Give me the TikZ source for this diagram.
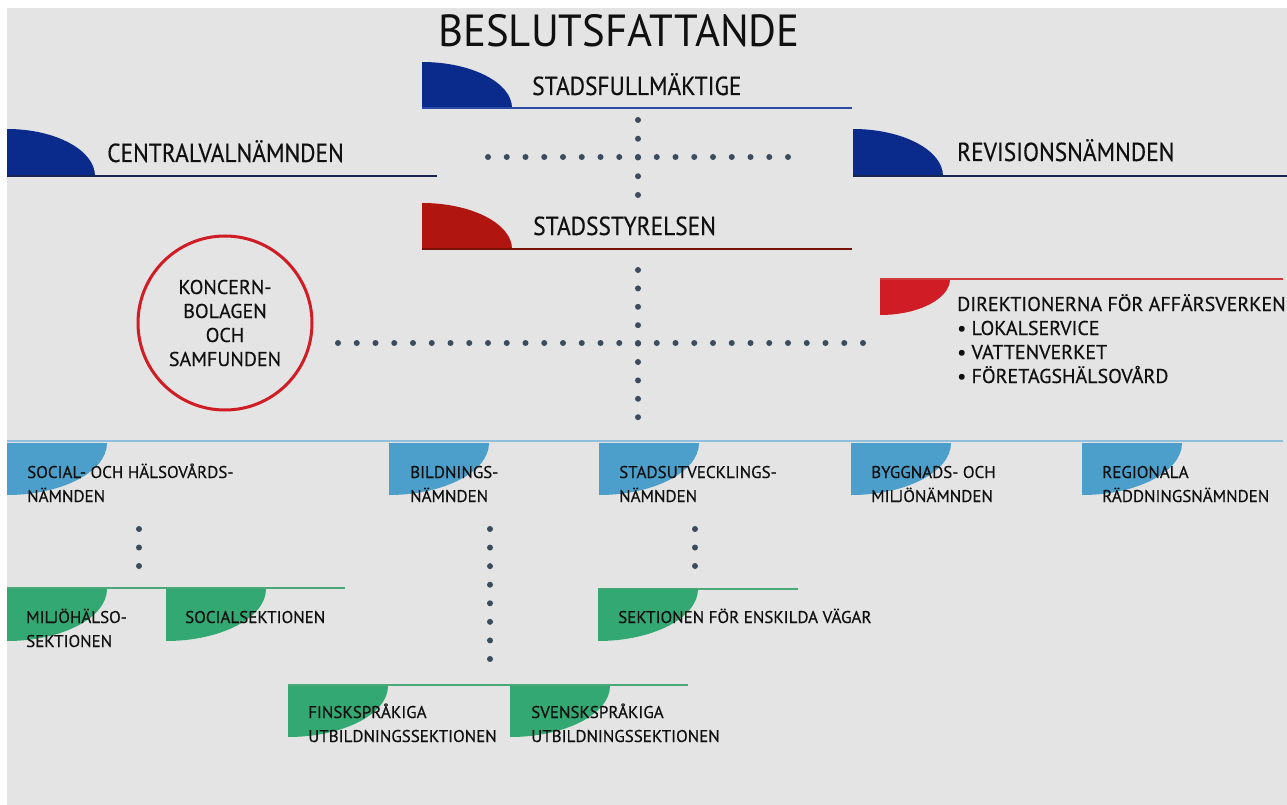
\documentclass[tikz,border=0pt]{standalone}
\usepackage{fontspec}
\setmainfont[FakeBold=0.4]{PT Sans}
\newfontfamily\narrowsans[FakeStretch=0.9,FakeBold=0.4]{PT Sans}
\newfontfamily\titlesans[FakeStretch=0.95]{PT Sans}
\usepackage{xcolor}
\usepackage{tikz}

\definecolor{bggray}{HTML}{E4E4E4}
\definecolor{navy}{HTML}{0A2A8C}
\definecolor{navyline}{HTML}{1C2452}
\definecolor{blueline}{HTML}{2A4AA8}
\definecolor{darkred}{HTML}{B0160F}
\definecolor{darkredline}{HTML}{7A1208}
\definecolor{brightred}{HTML}{D01C24}
\definecolor{brightredline}{HTML}{D03A3A}
\definecolor{skyblue}{HTML}{4B9FCA}
\definecolor{skyline}{HTML}{8FBFDC}
\definecolor{leafgreen}{HTML}{34A872}
\definecolor{leafline}{HTML}{4AA87A}
\definecolor{dotgray}{HTML}{3B4C5E}
\definecolor{inkblack}{HTML}{101010}

% tab hanging on top of a line: coordinate, colour, width, height
\newcommand{\uptab}[4]{\fill[#2] (#1) -- ++(0,-#4) .. controls +(0.55*#3,0) and +(0,-0.55*#4) .. ++(#3,#4) -- cycle;}
% tab hanging below a line
\newcommand{\downtab}[4]{\fill[#2] (#1) -- ++(#3,0) .. controls +(0,0.55*#4) and +(0.55*#3,0) .. ++(-#3,#4) -- cycle;}

\begin{document}
\begin{tikzpicture}[x=1pt,y=-1pt,
		lbl/.style={anchor=base west, inner sep=0pt, text=inkblack, align=left},
		biglbl/.style={lbl, font=\narrowsans\fontsize{26}{30}\selectfont},
		midlbl/.style={lbl, font=\fontsize{20}{24}\selectfont},
		smalllbl/.style={lbl, font=\fontsize{17}{24}\selectfont},
		dotrow/.style={draw=dotgray, line width=6pt, line cap=round, dash pattern=on 0pt off #1},
		dotrow/.default=18.75]
		\useasboundingbox (0,0) rectangle (1287,805);
		% Background
		\fill[white] (0,0) rectangle (1287,805);
		\fill[bggray] (7,8) rectangle (1287,805);
		% Title
		\node[anchor=base, inner sep=0pt, text=inkblack, font=\titlesans\fontsize{45}{50}\selectfont] (title) at (619,47) {BESLUTSFATTANDE};
		% Top level
		\coordinate (sfm) at (422,108);
		\coordinate (sfm-end) at (852,108);
		\uptab{sfm}{navy}{90}{46}
		\draw[blueline, line width=1.5pt] (sfm) -- (sfm-end);
		\node[biglbl] (sfm-txt) at (532,95) {STADSFULLMÄKTIGE};
		\coordinate (cvn) at (7,176);
		\coordinate (cvn-end) at (437,176);
		\uptab{cvn}{navy}{88}{47}
		\draw[navyline, line width=1.5pt] (cvn) -- (cvn-end);
		\node[biglbl] (cvn-txt) at (107,162) {CENTRALVALNÄMNDEN};
		\coordinate (rvn) at (853,176);
		\coordinate (rvn-end) at (1287,176);
		\uptab{rvn}{navy}{90}{47}
		\draw[navyline, line width=1.5pt] (rvn) -- (rvn-end);
		\node[biglbl] (rvn-txt) at (957,161) {REVISIONSNÄMNDEN};
		\coordinate (sst) at (422,249);
		\coordinate (sst-end) at (852,249);
		\uptab{sst}{darkred}{90}{46}
		\draw[darkredline, line width=1.5pt] (sst) -- (sst-end);
		\node[biglbl] (sst-txt) at (533,235) {STADSSTYRELSEN};
		% Dots between the top level bodies
		\coordinate (cross1-n) at (638,120);
		\coordinate (cross1-s) at (638,195.5);
		\coordinate (cross1-w) at (488,157);
		\coordinate (cross1-e) at (788.5,157);
		\draw[dotrow] (cross1-n) -- (cross1-s);
		\draw[dotrow] (cross1-w) -- (cross1-e);
		% Business directions
		\coordinate (dir) at (880,279);
		\coordinate (dir-end) at (1283,279);
		\downtab{dir}{brightred}{70}{36}
		\draw[brightredline, line width=1.5pt] (dir) -- (dir-end);
		\node[midlbl] (dir-txt) at (957,311) {DIREKTIONERNA FÖR AFFÄRSVERKEN};
		\node[midlbl] (dir-b1) at (957,335) {\textbullet\ LOKALSERVICE};
		\node[midlbl] (dir-b2) at (957,359) {\textbullet\ VATTENVERKET};
		\node[midlbl] (dir-b3) at (957,383) {\textbullet\ FÖRETAGSHÄLSOVÅRD};
		% Group companies
		\node[circle, draw=brightred, line width=3pt, minimum size=174pt, inner sep=0pt, text=inkblack, align=center, font=\fontsize{20}{24}\selectfont] (kob) at (225,323) {KONCERN-\\BOLAGEN\\OCH\\SAMFUNDEN};
		\coordinate (cross2-n) at (638,270);
		\coordinate (cross2-s) at (638,417.5);
		\coordinate (cross2-w) at (338,343);
		\coordinate (cross2-e) at (863.5,343);
		\draw[dotrow=18.4] (cross2-n) -- (cross2-s);
		\draw[dotrow] (cross2-w) -- (cross2-e);
		% Committees
		\coordinate (nmd) at (7,441);
		\coordinate (nmd-end) at (1283,441);
		\draw[skyline, line width=2pt] (nmd) -- (nmd-end);
		\coordinate (shn) at (7,443);
		\coordinate (bin) at (389,443);
		\coordinate (sun) at (599,443);
		\coordinate (bmn) at (851,443);
		\coordinate (rrn) at (1082,443);
		\downtab{shn}{skyblue}{100}{52}
		\downtab{bin}{skyblue}{100}{52}
		\downtab{sun}{skyblue}{100}{52}
		\downtab{bmn}{skyblue}{100}{52}
		\downtab{rrn}{skyblue}{100}{52}
		\node[smalllbl] (shn-txt) at (27,502) {SOCIAL- OCH HÄLSOVÅRDS-\\NÄMNDEN};
		\node[smalllbl] (bin-txt) at (410,502) {BILDNINGS-\\NÄMNDEN};
		\node[smalllbl] (sun-txt) at (619,502) {STADSUTVECKLINGS-\\NÄMNDEN};
		\node[smalllbl] (bmn-txt) at (871,502) {BYGGNADS- OCH\\MILJÖNÄMNDEN};
		\node[smalllbl] (rrn-txt) at (1102,502) {REGIONALA\\RÄDDNINGSNÄMNDEN};
		% Sections
		\coordinate (shn-dn) at (139,529);
		\coordinate (shn-ds) at (139,566.5);
		\draw[dotrow=18.5] (shn-dn) -- (shn-ds);
		\coordinate (bin-dn) at (490,529);
		\coordinate (bin-ds) at (490,659.5);
		\draw[dotrow=18.57] (bin-dn) -- (bin-ds);
		\coordinate (sun-dn) at (695,529);
		\coordinate (sun-ds) at (695,566.5);
		\draw[dotrow=18.5] (sun-dn) -- (sun-ds);
		\coordinate (sek1) at (7,588);
		\coordinate (sek1-end) at (345,588);
		\draw[leafline, line width=1.5pt] (sek1) -- (sek1-end);
		\coordinate (mhs) at (7,589);
		\coordinate (sos) at (166,589);
		\downtab{mhs}{leafgreen}{100}{52}
		\downtab{sos}{leafgreen}{100}{52}
		\node[smalllbl] (mhs-txt) at (26,647) {MILJÖHÄLSO-\\SEKTIONEN};
		\node[smalllbl] (sos-txt) at (185,623) {SOCIALSEKTIONEN};
		\coordinate (sfv) at (598,589);
		\coordinate (sfv-end) at (798,589);
		\draw[leafline, line width=1.5pt] (sfv) -- (sfv-end);
		\downtab{sfv}{leafgreen}{100}{52}
		\node[smalllbl] (sfv-txt) at (618,623) {SEKTIONEN FÖR ENSKILDA VÄGAR};
		\coordinate (sek2) at (288,685);
		\coordinate (sek2-end) at (688,685);
		\draw[leafline, line width=1.5pt] (sek2) -- (sek2-end);
		\coordinate (fsu) at (288,686);
		\coordinate (ssu) at (510,686);
		\downtab{fsu}{leafgreen}{100}{51}
		\downtab{ssu}{leafgreen}{100}{51}
		\node[smalllbl] (fsu-txt) at (308,742) {FINSKSPRÅKIGA\\UTBILDNINGSSEKTIONEN};
		\node[smalllbl] (ssu-txt) at (531,742) {SVENSKSPRÅKIGA\\UTBILDNINGSSEKTIONEN};
\end{tikzpicture}
\end{document}
